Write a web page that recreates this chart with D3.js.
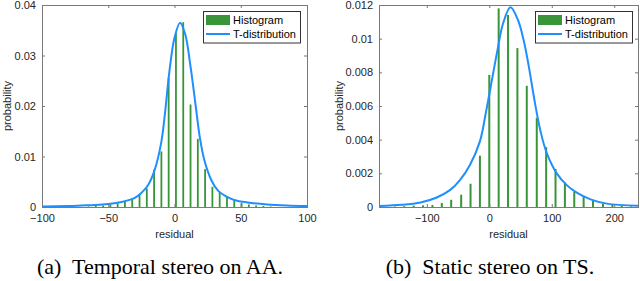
<!DOCTYPE html>
<html>
<head>
<meta charset="utf-8">
<script src="https://cdn.jsdelivr.net/npm/d3@7"></script>
<style>
  body { margin: 0; background: #fff; }
  svg { display: block; }
</style>
</head>
<body>
<div id="chart"></div>
<script>
// ---- panel (a): temporal stereo on AA ----
const binsA = [-64.9, -59.4, -53.9, -48.4, -42.9, -37.4, -31.9, -26.4, -20.9, -15.4, -9.9, -4.4,
  1.1, 6.6, 12.1, 17.6, 23.1, 28.6, 34.1, 39.6, 45.1, 50.6, 56.1, 61.6, 67.1, 72.6];
const histA = [0.0001, 0.0002, 0.0003, 0.0005, 0.0007, 0.0012, 0.0017, 0.0026, 0.0037, 0.0074, 0.0110, 0.0256,
  0.0344, 0.0366, 0.0203, 0.0135, 0.0075, 0.0040, 0.0030, 0.0020, 0.0014, 0.0008, 0.0005, 0.0003, 0.0002, 0.0001];
const curveAx = [-100, -80, -70, -60, -50, -40, -30, -25, -20, -15, -10, -7, -4, 0, 4.2,
  8, 12, 16, 19, 22.5, 28, 33, 39, 45, 55, 70, 85, 100];
const curveAy = [0.0001, 0.0002, 0.0003, 0.0004, 0.0006, 0.0010, 0.0018, 0.0028, 0.0043, 0.0073, 0.0128, 0.0190, 0.0265, 0.0335, 0.0365,
  0.0343, 0.0280, 0.0200, 0.0140, 0.0093, 0.0052, 0.0032, 0.0021, 0.0014, 0.0009, 0.0005, 0.0003, 0.0002];
const xTicksA = [-100, -50, 0, 50, 100];
const yTicksA = [0, 0.01, 0.02, 0.03, 0.04];

// ---- panel (b): static stereo on TS ----
const binsB = [-151, -136, -121, -106, -91, -76, -61, -45, -30, -15, 0, 15, 30, 45, 60, 76,
  91, 106, 121, 136, 151, 166, 182, 197, 212, 227];
const histB = [0.00003, 0.00005, 0.00008, 0.0001, 0.00012, 0.00024, 0.00043, 0.00073, 0.00138, 0.00305, 0.00785, 0.0118,
  0.01141, 0.00944, 0.0072, 0.0053, 0.00356, 0.00226, 0.00146, 0.00091, 0.00059, 0.00036, 0.0002, 0.00012, 0.00006, 0.00004];
const curveBx = [-176, -140, -110, -85, -63, -47, -31, -15, -5, 5, 14, 22, 34, 46, 55, 63, 73, 82, 92,
  108, 124, 140, 162, 188, 238];
const curveBy = [0.00006, 0.00013, 0.00027, 0.00055, 0.00100, 0.00160, 0.0025, 0.0039, 0.0057, 0.0077, 0.0095, 0.0109, 0.01187,
  0.0111, 0.0099, 0.0084, 0.0062, 0.0045, 0.0032, 0.0020, 0.00130, 0.00085, 0.00045, 0.0002, 0.00008];
const xTicksB = [-100, 0, 100, 200];
const yTicksB = [0, 0.002, 0.004, 0.006, 0.008, 0.01, 0.012];

const legendLabels = ["Histogram", "T-distribution"];
const green = "#3a953a";
const blue = "#1e8fff";

const svg = d3.select("#chart").append("svg")
    .attr("width", 640)
    .attr("height", 281)
    .attr("viewBox", [0, 0, 640, 281]);

function panel({bins, hist, cx, cy, xDomain, yDomain, xTicks, yTicks, left, right, top, bottom,
                barWidth, caption, captionX, legendX, ylabelX}) {
  const x = d3.scaleLinear().domain(xDomain).range([left, right]);
  const y = d3.scaleLinear().domain(yDomain).range([bottom, top]);
  const g = svg.append("g");

  // bars
  g.selectAll("rect.bar")
    .data(bins.map((b, i) => [b, hist[i]]))
    .join("rect")
      .attr("class", "bar")
      .attr("x", d => x(d[0]) - barWidth / 2)
      .attr("y", d => y(d[1]))
      .attr("width", barWidth)
      .attr("height", d => y(0) - y(d[1]))
      .attr("fill", green);

  // t-distribution
  const line = d3.line()
      .x(d => x(d[0]))
      .y(d => y(d[1]))
      .curve(d3.curveCatmullRom.alpha(0.5));
  g.append("path")
      .datum(cx.map((v, i) => [v, cy[i]]))
      .attr("d", line)
      .attr("fill", "none")
      .attr("stroke", blue)
      .attr("stroke-width", 2);

  // axes (box with inward ticks on all sides)
  const fmt = d => d === 0 ? "0" : String(+d.toFixed(3));
  const tl = 3;
  g.append("g")
      .attr("transform", `translate(0,${bottom})`)
      .call(d3.axisBottom(x).tickValues(xTicks).tickSize(-tl).tickPadding(7).tickFormat(d3.format("d")))
      .call(a => a.select(".domain").remove());
  g.append("g")
      .attr("transform", `translate(0,${top})`)
      .call(d3.axisTop(x).tickValues(xTicks).tickSize(-tl).tickFormat(""))
      .call(a => a.select(".domain").remove());
  g.append("g")
      .attr("transform", `translate(${left},0)`)
      .call(d3.axisLeft(y).tickValues(yTicks).tickSize(-tl).tickPadding(6).tickFormat(fmt))
      .call(a => a.select(".domain").remove());
  g.append("g")
      .attr("transform", `translate(${right},0)`)
      .call(d3.axisRight(y).tickValues(yTicks).tickSize(-tl).tickFormat(""))
      .call(a => a.select(".domain").remove());
  g.selectAll(".tick line").attr("stroke", "#777");
  g.selectAll(".tick text")
      .attr("fill", "#262626")
      .attr("font-family", "Liberation Sans, Arial, sans-serif")
      .attr("font-size", 11);

  g.append("rect")
      .attr("x", left + 0.5)
      .attr("y", top + 0.5)
      .attr("width", right - left)
      .attr("height", bottom - top)
      .attr("fill", "none")
      .attr("stroke", "#7a7a7a")
      .attr("stroke-width", 1);

  // labels
  g.append("text")
      .attr("x", (left + right) / 2)
      .attr("y", bottom + 31)
      .attr("text-anchor", "middle")
      .attr("fill", "#262626")
      .attr("font-family", "Liberation Sans, Arial, sans-serif")
      .attr("font-size", 11)
      .text("residual");
  g.append("text")
      .attr("transform", `translate(${ylabelX},${(top + bottom) / 2}) rotate(-90)`)
      .attr("text-anchor", "middle")
      .attr("fill", "#262626")
      .attr("font-family", "Liberation Sans, Arial, sans-serif")
      .attr("font-size", 11)
      .text("probability");

  // legend
  const lg = g.append("g").attr("transform", `translate(${legendX},11)`);
  lg.append("rect")
      .attr("x", 0.5).attr("y", 0.5)
      .attr("width", 97).attr("height", 31.5)
      .attr("fill", "#fff")
      .attr("stroke", "#333")
      .attr("stroke-width", 1);
  lg.append("rect")
      .attr("x", 3).attr("y", 4)
      .attr("width", 24).attr("height", 10)
      .attr("fill", green);
  lg.append("line")
      .attr("x1", 3).attr("x2", 27)
      .attr("y1", 23).attr("y2", 23)
      .attr("stroke", blue)
      .attr("stroke-width", 2);
  lg.selectAll("text")
    .data(legendLabels)
    .join("text")
      .attr("x", 30)
      .attr("y", (d, i) => 13 + i * 14)
      .attr("fill", "#000")
      .attr("font-family", "Liberation Sans, Arial, sans-serif")
      .attr("font-size", 11)
      .text(d => d);

  // caption
  g.append("text")
      .attr("x", captionX)
      .attr("y", 274)
      .attr("text-anchor", "middle")
      .attr("fill", "#000")
      .attr("font-family", "Liberation Serif, Times New Roman, serif")
      .attr("font-size", 22)
      .attr("xml:space", "preserve")
      .text(caption);
}

panel({
  bins: binsA, hist: histA, cx: curveAx, cy: curveAy,
  xDomain: [-100, 100], yDomain: [0, 0.04],
  xTicks: xTicksA, yTicks: yTicksA,
  left: 42, right: 307, top: 5, bottom: 207,
  barWidth: 1.8, caption: "(a)  Temporal stereo on AA.", captionX: 160,
  legendX: 203, ylabelX: 11
});

panel({
  bins: binsB, hist: histB, cx: curveBx, cy: curveBy,
  xDomain: [-176.5, 238], yDomain: [0, 0.012],
  xTicks: xTicksB, yTicks: yTicksB,
  left: 379, right: 638, top: 5, bottom: 207,
  barWidth: 2, caption: "(b)  Static stereo on TS.", captionX: 490,
  legendX: 535, ylabelX: 343
});
</script>
</body>
</html>
